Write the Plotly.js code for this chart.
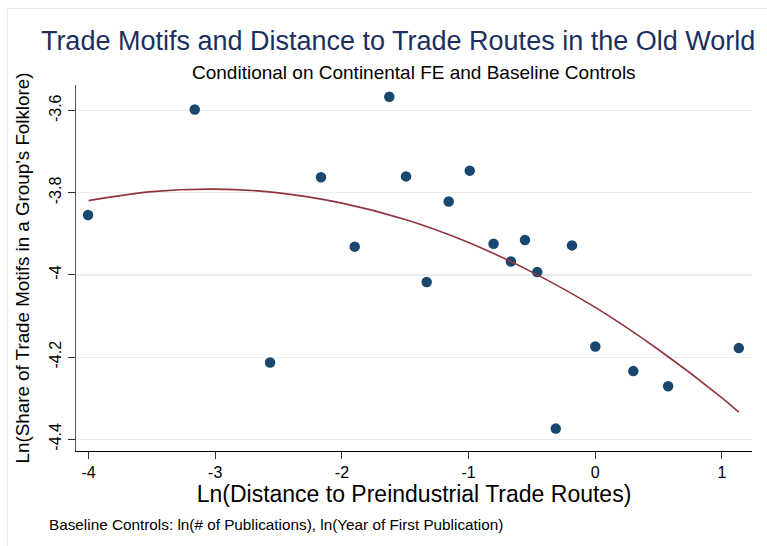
<!DOCTYPE html>
<html>
<head>
<meta charset="utf-8">
<script src="https://cdn.plot.ly/plotly-3.0.1.min.js"></script>
<style>
  html, body { margin: 0; padding: 0; background: #ffffff; }
  #wrap { position: relative; width: 767px; height: 546px; overflow: hidden; }
  #chart { position: absolute; left: 0; top: 0; width: 767px; height: 546px; }
  #frame { position: absolute; left: 7px; top: 8px; width: 800px; height: 600px;
           border-top: 1px solid #e3eaed; border-left: 1px solid #e3eaed; pointer-events: none; }
</style>
</head>
<body>
<div id="wrap">
  <div id="chart"></div>
  <div id="frame"></div>
</div>
<script>
// Scatter data: Ln(Distance to Preindustrial Trade Routes) vs Ln(Share of Trade Motifs)
const distX = [-4.004, -3.162, -2.567, -2.165, -1.899, -1.626, -1.494, -1.331, -1.157, -0.991,
               -0.803, -0.666, -0.555, -0.458, -0.312, -0.184, 0.000, 0.300, 0.575, 1.133];
const shareY = [-3.854, -3.597, -4.213, -3.762, -3.931, -3.566, -3.760, -4.017, -3.821, -3.746,
                -3.924, -3.967, -3.915, -3.993, -4.374, -3.928, -4.174, -4.234, -4.271, -4.178];

// Quadratic fit line
const fitX = [-4.0, -3.5, -3.0, -2.5, -2.0, -1.5, -1.0, -0.5, 0.0, 0.5, 1.0, 1.133];
const fitY = [-3.819, -3.797, -3.791, -3.800, -3.825, -3.865, -3.921, -3.993, -4.079, -4.182, -4.299, -4.334];

// Tick labels
const xTickVals = [-4, -3, -2, -1, 0, 1];
const xTickText = ['-4', '-3', '-2', '-1', '0', '1'];
const yTickVals = [-4.4, -4.2, -4.0, -3.8, -3.6];
const yTickText = ['-4.4', '-4.2', '-4', '-3.8', '-3.6'];

const FONT = 'Liberation Sans, Arial, Helvetica, sans-serif';

const traces = [
  {
    x: distX, y: shareY, type: 'scatter', mode: 'markers',
    marker: { color: '#1a476f', size: 10.5, line: { width: 0 } },
    hoverinfo: 'x+y', showlegend: false
  },
  {
    x: fitX, y: fitY, type: 'scatter', mode: 'lines',
    line: { color: '#90353b', width: 1.6, shape: 'spline', smoothing: 1 },
    hoverinfo: 'skip', showlegend: false
  }
];

const layout = {
  width: 767, height: 546,
  margin: { l: 76, r: 15, t: 85, b: 95 },
  paper_bgcolor: '#ffffff', plot_bgcolor: '#ffffff',
  font: { family: FONT, color: '#000000' },
  title: {
    text: 'Trade Motifs and Distance to Trade Routes in the Old World',
    font: { family: FONT, size: 27, color: '#1c2f5e' },
    xref: 'container', yref: 'container',
    x: 0.519, xanchor: 'center', y: 0.925, yanchor: 'middle'
  },
  xaxis: {
    range: [-4.099, 1.237],
    tickvals: xTickVals, ticktext: xTickText,
    ticks: 'outside', ticklen: 7, tickwidth: 1, tickcolor: '#333333',
    tickfont: { family: FONT, size: 16, color: '#000000' },
    showgrid: false, zeroline: false,
    showline: true, linecolor: '#000000', linewidth: 1.2,
    title: { text: 'Ln(Distance to Preindustrial Trade Routes)',
             font: { family: FONT, size: 23, color: '#000000' }, standoff: 0 }
  },
  yaxis: {
    range: [-4.4285, -3.5375],
    tickvals: yTickVals, ticktext: yTickText, tickangle: -90,
    ticks: 'outside', ticklen: 7, tickwidth: 1, tickcolor: '#333333',
    tickfont: { family: FONT, size: 16, color: '#000000' },
    showgrid: true, gridcolor: '#e8eef0', gridwidth: 1.2, zeroline: false,
    showline: true, linecolor: '#555555', linewidth: 1.2,
    title: { text: "Ln(Share of Trade Motifs in a Group's Folklore)",
             font: { family: FONT, size: 18.8, color: '#000000' }, standoff: 12 }
  },
  annotations: [
    {
      text: 'Conditional on Continental FE and Baseline Controls',
      xref: 'paper', yref: 'paper', x: 0.5, y: 1 + (85 - 72) / 366,
      xanchor: 'center', yanchor: 'middle', showarrow: false,
      font: { family: FONT, size: 19, color: '#000000' }
    },
    {
      text: 'Baseline Controls: ln(# of Publications), ln(Year of First Publication)',
      xref: 'paper', yref: 'paper', x: (47 - 76) / 676, y: -(524 - 451) / 366,
      xanchor: 'left', yanchor: 'middle', showarrow: false,
      font: { family: FONT, size: 15.3, color: '#000000' }
    }
  ]
};

Plotly.newPlot('chart', traces, layout, { displayModeBar: false, staticPlot: true });
</script>
</body>
</html>
